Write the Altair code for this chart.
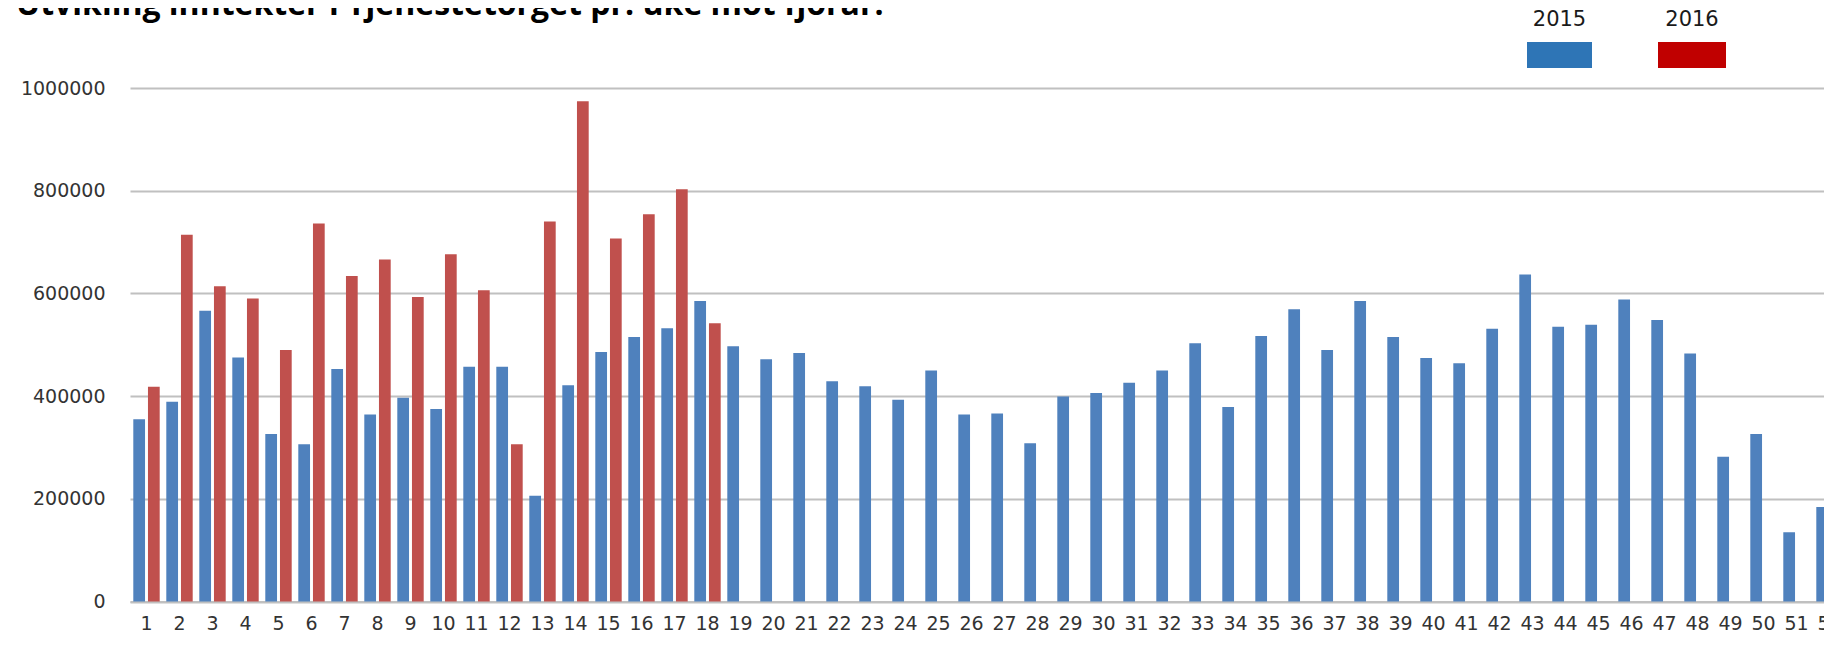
import altair as alt
import pandas as pd

# ---- data ----
weeks = list(range(1, 53))
values_2015 = [355000, 389000, 566000, 475000, 326000, 306000, 453000, 364000, 397000, 375000,
               457000, 457000, 206000, 421000, 486000, 515000, 532000, 585000, 497000, 472000,
               484000, 429000, 419000, 393000, 450000, 364000, 366000, 308000, 399000, 406000,
               426000, 450000, 503000, 379000, 517000, 569000, 490000, 585000, 515000, 474000,
               464000, 531000, 637000, 535000, 539000, 588000, 548000, 483000, 282000, 326000,
               135000, 184000]
values_2016 = [418000, 714000, 614000, 590000, 490000, 736000, 634000, 666000, 593000, 676000,
               606000, 306000, 740000, 974000, 707000, 754000, 803000, 542000]
years = ["2015", "2016"]
y_ticks = [0, 200000, 400000, 600000, 800000, 1000000]
title_text = "Utvikling inntekter i Tjenestetorget pr. uke mot fjorår:"

bar_colors = ["#4F81BD", "#C0504D"]
legend_colors = ["#2E75B6", "#C00000"]

rows = []
for w, v in zip(weeks, values_2015):
    rows.append({"week": w, "year": "2015", "value": v})
for w, v in zip(weeks, values_2016):
    rows.append({"week": w, "year": "2016", "value": v})
df = pd.DataFrame(rows)

bars = alt.Chart(df).mark_bar().encode(
    x=alt.X("week:O", sort=weeks,
            scale=alt.Scale(range=[0, 1716], paddingInner=0.2, paddingOuter=0.1),
            axis=alt.Axis(title=None, labelAngle=0, ticks=False, tickSize=0,
                          domain=True, domainColor="#C0C0C0", domainWidth=2,
                          labelPadding=22, labelBaseline="middle", grid=False)),
    xOffset=alt.XOffset("year:N", scale=alt.Scale(domain=years, paddingInner=0.2, paddingOuter=0)),
    y=alt.Y("value:Q", scale=alt.Scale(domain=[0, 1000000]),
            axis=alt.Axis(title=None, values=y_ticks, format="d", ticks=False, tickSize=0,
                          domain=False, grid=True, gridColor="#C0C0C0", gridWidth=2,
                          labelPadding=25)),
    color=alt.Color("year:N", scale=alt.Scale(domain=years, range=bar_colors), legend=None),
)

layers = [bars]

# legend (custom, label above swatch)
legend_pos = [(1397, 1462), (1528, 1596)]
for (x0, x1), yr, col in zip(legend_pos, years, legend_colors):
    ldf = pd.DataFrame({"label": [yr]})
    sw = alt.Chart(ldf).mark_rect(color=col).encode(
        x=alt.value(x0), x2=alt.value(x1), y=alt.value(-46), y2=alt.value(-20))
    tx = alt.Chart(ldf).mark_text(font="DejaVu Sans", fontSize=21, color="#1a1a1a",
                                  align="center", baseline="middle").encode(
        x=alt.value((x0 + x1) / 2), y=alt.value(-68), text="label:N")
    layers += [sw, tx]

tdf = pd.DataFrame({"t": [title_text]})
title = alt.Chart(tdf).mark_text(font="Open Sans", fontWeight="bold", fontSize=32,
                                 color="#000000", align="left", baseline="alphabetic").encode(
    x=alt.value(-114), y=alt.value(-73), text="t:N")
layers.append(title)

chart = alt.layer(*layers).properties(
    width=1694, height=513.5,
    autosize=alt.AutoSizeParams(type="none"),
    padding={"left": 122, "top": 80, "right": 0, "bottom": 34},
).configure_view(stroke=None).configure_axis(
    labelFont="DejaVu Sans", labelFontSize=19, labelColor="#333333"
)

chart.save("out.html", embed_options={"renderer": "svg", "actions": False})
